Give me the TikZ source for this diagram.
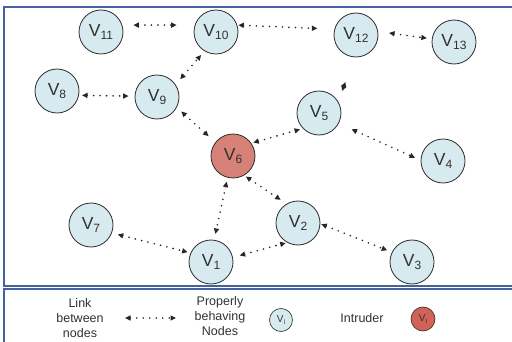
\documentclass[tikz,border=0pt]{standalone}
\usepackage{fontspec}
\setmainfont{Liberation Sans}
\usetikzlibrary{arrows.meta}

\definecolor{nodeblue}{RGB}{214,234,240}
\definecolor{nodered}{RGB}{214,130,120}
\definecolor{legendred}{RGB}{208,98,88}
\definecolor{framecol}{RGB}{68,98,160}
\definecolor{inkgray}{RGB}{45,45,45}
\definecolor{txtgray}{RGB}{50,50,50}

% node label: V with a lowered index
\newcommand\vlab[1]{V\raisebox{-0.4ex}{\fontsize{12}{12}\selectfont #1}}
\newcommand\vsmall{\fontsize{10}{10}\selectfont V\raisebox{-0.35ex}{\fontsize{7}{7}\selectfont i}}

\tikzset{
  peer/.style={circle, draw=inkgray, line width=0.8pt, fill=nodeblue,
    minimum size=44pt, inner sep=0pt, text=txtgray,
    font=\fontsize{17.5}{17.5}\selectfont},
  intruder/.style={peer, fill=nodered},
  link/.style={line width=1.8pt, line cap=round, dash pattern=on 0pt off 6.5pt,
    draw=black!85,
    {Triangle[length=5.5pt,width=5pt]}-{Triangle[length=5.5pt,width=5pt]}},
  frame/.style={draw=framecol, line width=1.4pt},
  legendtext/.style={align=center, text=txtgray,
    font=\fontsize{12.5}{15}\selectfont},
}

\begin{document}
\begin{tikzpicture}[x=1pt, y=-1pt]
\useasboundingbox (0,0) rectangle (512,342);
\clip (0,0) rectangle (512,342);
\fill[white] (0,0) rectangle (512,342);

% panels
\draw[frame] (4,7) rectangle (530,286);
\draw[frame] (4,289) rectangle (530,360);

% network nodes
\node[peer] (V11) at (101,32) {\vlab{11}};
\node[peer] (V10) at (216,32) {\vlab{10}};
\node[peer] (V12) at (356,35) {\vlab{12}};
\node[peer] (V13) at (454,42) {\vlab{13}};
\node[peer] (V8)  at (57,91)  {\vlab{8}};
\node[peer] (V9)  at (157,97) {\vlab{9}};
\node[peer] (V5)  at (319,113) {\vlab{5}};
\node[peer] (V4)  at (443,161) {\vlab{4}};
\node[intruder] (V6) at (233,156) {\vlab{6}};
\node[peer] (V7)  at (91,225) {\vlab{7}};
\node[peer] (V1)  at (211,262) {\vlab{1}};
\node[peer] (V2)  at (298,223) {\vlab{2}};
\node[peer] (V3)  at (412,262) {\vlab{3}};

% links
\draw[link, shorten <=11pt, shorten >=18pt] (V11.18) -- (V10.162);
\draw[link, shorten <=1pt, shorten >=17pt] (V10.18) -- (V12.165);
\draw[link, shorten <=11pt, shorten >=5pt] (V12.9) -- (V13.172);
\draw[link, shorten <=3pt, shorten >=6pt] (V8.-11) -- (V9.178);
\draw[link, shorten <=7pt, shorten >=5pt] (V9.34) -- (V10.-121);
\draw[link, shorten <=6pt, shorten >=9pt] (V9.-28) -- (V6.142);
\draw[link, shorten <=2pt, shorten >=3pt] (V6.35) -- (V5.-136);
\draw[link, shorten <=14pt, shorten >=6pt] (V5.-28) -- (V4.178);
\draw[link, shorten <=2pt, shorten >=7pt] (V6.-60) -- (V2.121);
\draw[link, shorten <=4pt, shorten >=6pt] (V6.-104) -- (V1.82);
\draw[link, shorten <=6pt, shorten >=3pt] (V7.-21) -- (V1.156);
\draw[link, shorten <=7pt, shorten >=1.5pt] (V1.12) -- (V2.-119);
\draw[link, shorten <=1pt, shorten >=5pt] (V2.-2) -- (V3.154);

% stub link above V5
\coordinate (s1) at (342,91);
\coordinate (s2) at (345.5,82);
\draw[link] (s1) -- (s2);

% legend
\node[legendtext] (lk) at (80,318) {Link\\between\\nodes};
\coordinate (la) at (125,318);
\coordinate (lb) at (176,318);
\draw[link] (la) -- (lb);
\node[legendtext] (pb) at (220,316) {Properly\\behaving\\Nodes};
\node[peer, minimum size=23pt, line width=0.6pt] (lv) at (281,320) {\vsmall};
\node[legendtext] (it) at (362,318) {Intruder};
\node[peer, fill=legendred, minimum size=24pt, line width=0.6pt] (lr) at (423,319) {\vsmall};
\end{tikzpicture}
\end{document}
